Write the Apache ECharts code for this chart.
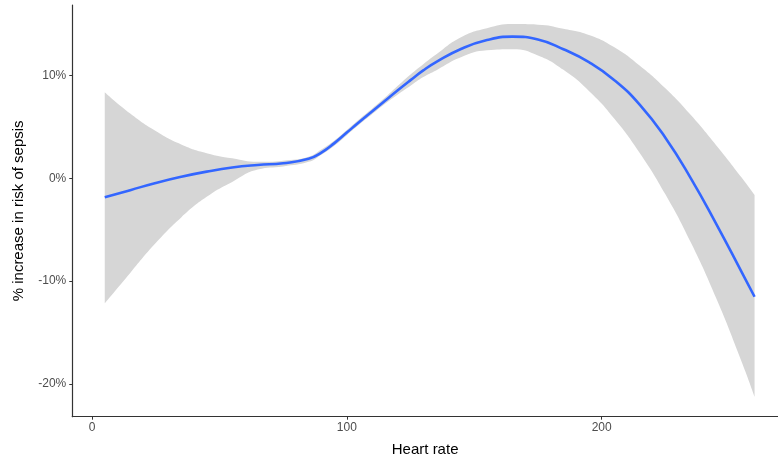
<!DOCTYPE html>
<html>
<head>
<meta charset="utf-8">
<script src="https://cdn.jsdelivr.net/npm/echarts@6/dist/echarts.min.js"></script>
<style>
  html, body { margin: 0; padding: 0; background: #ffffff; }
  #chart { width: 778px; height: 459px; }
</style>
</head>
<body>
<div id="chart"></div>
<script>
// Smoothed effect of heart rate on sepsis risk, with its confidence band
const heartRate = [5, 15, 25, 35, 45, 55, 65, 75, 85, 90, 95, 100, 105, 110, 115, 120, 125, 130, 135, 145, 155, 165, 175, 185, 195, 205, 215, 225, 235, 245, 255, 260];
const riskFit   = [-1.85, -1.15, -0.45, 0.15, 0.65, 1.05, 1.3, 1.47, 1.9, 2.5, 3.4, 4.45, 5.5, 6.52, 7.55, 8.57, 9.55, 10.5, 11.3, 12.6, 13.45, 13.78, 13.5, 12.55, 11.3, 9.55, 7.15, 3.95, 0.0, -4.45, -9.15, -11.52];
const riskUpper = [8.37, 6.3, 4.6, 3.3, 2.45, 1.95, 1.6, 1.72, 2.1, 2.8, 3.65, 4.7, 5.78, 6.8, 7.85, 9.0, 10.1, 11.1, 12.05, 13.75, 14.6, 15.0, 14.95, 14.55, 13.95, 12.75, 10.95, 8.75, 6.15, 3.2, 0.05, -1.62];
const riskLower = [-12.16, -9.2, -6.3, -3.8, -1.8, -0.35, 0.85, 1.15, 1.6, 2.3, 3.15, 4.2, 5.25, 6.25, 7.25, 8.15, 9.0, 9.85, 10.5, 11.8, 12.45, 12.55, 11.95, 10.55, 8.5, 5.8, 2.45, -1.55, -6.25, -11.7, -17.9, -21.25];
const xTicks = [0, 100, 200];
const yTicks = [-20, -10, 0, 10];

const FONT = '"Liberation Sans", Arial, Helvetica, sans-serif';

// Band rows are stored as [risk, heartRate] so that the risk column is the
// first numeric dimension and is the one that gets stacked.
const lowerRows = heartRate.map((x, i) => [riskLower[i], x]);
const widthRows = heartRate.map((x, i) => [riskUpper[i] - riskLower[i], x]);
const fitPts    = heartRate.map((x, i) => [x, riskFit[i]]);

const chart = echarts.init(document.getElementById('chart'), null, { renderer: 'canvas' });

chart.setOption({
  animation: false,
  backgroundColor: '#ffffff',
  grid: { left: 72.25, top: 5, right: 0, bottom: 42.3, containLabel: false, outerBoundsMode: 'none' },
  xAxis: {
    type: 'value',
    min: -7.75,
    max: 269.2,
    name: 'Heart rate',
    nameLocation: 'middle',
    nameGap: 26,
    nameTextStyle: { color: '#000000', fontSize: 15, fontFamily: FONT },
    axisLine: { show: true, onZero: false, lineStyle: { color: '#333333', width: 1.2 } },
    axisTick: { show: true, length: 3, customValues: xTicks, lineStyle: { color: '#333333', width: 1 } },
    axisLabel: { customValues: xTicks, color: '#4d4d4d', fontSize: 12, fontFamily: FONT, margin: 5 },
    splitLine: { show: false }
  },
  yAxis: {
    type: 'value',
    min: -23.19,
    max: 16.86,
    name: '% increase in risk of sepsis',
    nameLocation: 'middle',
    nameGap: 46,
    nameTextStyle: { color: '#000000', fontSize: 15, fontFamily: FONT },
    axisLine: { show: true, onZero: false, lineStyle: { color: '#333333', width: 1.2 } },
    axisTick: { show: true, length: 3, customValues: yTicks, lineStyle: { color: '#333333', width: 1 } },
    axisLabel: { customValues: yTicks, color: '#4d4d4d', fontSize: 12, fontFamily: FONT, margin: 6,
                 formatter: v => v + '%' },
    splitLine: { show: false }
  },
  series: [
    {
      name: 'lower',
      type: 'line',
      data: lowerRows,
      encode: { x: 1, y: 0 },
      stack: 'ci',
      stackStrategy: 'all',
      smooth: true,
      symbol: 'none',
      lineStyle: { width: 0, opacity: 0 },
      silent: true
    },
    {
      name: 'band',
      type: 'line',
      data: widthRows,
      encode: { x: 1, y: 0 },
      stack: 'ci',
      stackStrategy: 'all',
      smooth: true,
      symbol: 'none',
      lineStyle: { width: 0, opacity: 0 },
      areaStyle: { color: '#d6d6d6', opacity: 1 },
      silent: true
    },
    {
      name: 'fit',
      type: 'line',
      data: fitPts,
      smooth: true,
      symbol: 'none',
      lineStyle: { color: '#3366ff', width: 2.6 },
      z: 5
    }
  ]
});
</script>
</body>
</html>
